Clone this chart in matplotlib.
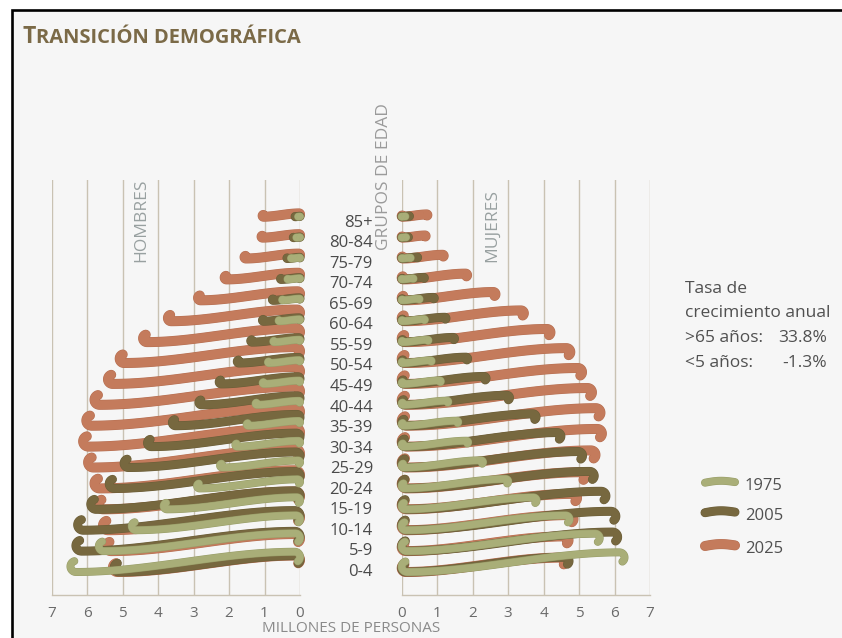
import numpy as np
import matplotlib.pyplot as plt
import matplotlib.patheffects as pe
from matplotlib.patches import Rectangle
from matplotlib.lines import Line2D
from matplotlib import transforms

plt.rcParams['font.family'] = ['Open Sans', 'DejaVu Sans']

# Datos (millones de personas), de 0-4 a 85+
grupos = ["0-4", "5-9", "10-14", "15-19", "20-24", "25-29", "30-34", "35-39",
          "40-44", "45-49", "50-54", "55-59", "60-64", "65-69", "70-74",
          "75-79", "80-84", "85+"]
anios = ["1975", "2005", "2025"]

hombres_1975 = [6.57, 5.77, 4.84, 3.94, 3.00, 2.35, 1.92, 1.60, 1.35, 1.15,
                1.00, 0.85, 0.70, 0.60, 0.45, 0.35, 0.20, 0.15]
hombres_2005 = [5.35, 6.43, 6.38, 6.01, 5.49, 5.07, 4.41, 3.71, 2.96, 2.39,
                1.88, 1.50, 1.17, 0.89, 0.66, 0.48, 0.30, 0.25]
hombres_2025 = [5.40, 5.59, 5.68, 5.82, 5.92, 6.10, 6.24, 6.15, 5.92, 5.54,
                5.21, 4.55, 3.85, 3.00, 2.25, 1.69, 1.21, 1.18]

mujeres_1975 = [6.38, 5.68, 4.83, 3.90, 3.10, 2.39, 1.97, 1.69, 1.41, 1.20,
                0.94, 0.85, 0.75, 0.60, 0.43, 0.35, 0.22, 0.20]
mujeres_2005 = [4.83, 6.20, 6.15, 5.87, 5.54, 5.21, 4.60, 3.90, 3.15, 2.49,
                1.97, 1.60, 1.36, 1.03, 0.75, 0.56, 0.30, 0.33]
mujeres_2025 = [4.74, 4.83, 4.97, 5.07, 5.30, 5.59, 5.77, 5.73, 5.49, 5.21,
                4.88, 4.32, 3.57, 2.77, 1.97, 1.31, 0.80, 0.85]

ticks = [0, 1, 2, 3, 4, 5, 6, 7]

colores = {"1975": "#a9ae78", "2005": "#77683f", "2025": "#c47b5c"}
bordes = {"1975": "#979c67", "2005": "#6a5c37", "2025": "#b56e51"}
grosor_px = {"1975": 7.0, "2005": 8.0, "2025": 9.0}
GRID = "#c9c2b3"
TITULO = "#7b6a47"
TEXTO = "#505050"

W_PX, H_PX = 842, 638
fig = plt.figure(figsize=(W_PX / 100, H_PX / 100), dpi=100)
fig.patch.set_facecolor("white")


def fx(px):
    return px / W_PX


def fy(py):
    return 1 - py / H_PX


def pt(px):
    return px * 72 / 100


# marco
fig.add_artist(Rectangle((fx(11.5), fy(700)), fx(900), fy(9.5) - fy(700),
                         transform=fig.transFigure, facecolor="#f6f6f6",
                         edgecolor="black", lw=1.9, zorder=0))

# ejes
AX_TOP, AX_BOT = 180, 595
L0, L1 = 51.7, 300.0
R0, R1 = 401.7, 650.0
ROWPX = 20.55
Y_LABEL0 = 572.0
ymin = (Y_LABEL0 - AX_BOT) / ROWPX
ymax = (Y_LABEL0 - AX_TOP) / ROWPX
PXU = (L1 - L0) / 7
ROW_STROKE = 20.9

alto = (AX_BOT - AX_TOP) / H_PX
axL = fig.add_axes([fx(L0), fy(AX_BOT), fx(L1) - fx(L0), alto])
axR = fig.add_axes([fx(R0), fy(AX_BOT), fx(R1) - fx(R0), alto])
axL.set_xlim(7, 0)
axR.set_xlim(0, 7)
for ax in (axL, axR):
    ax.set_ylim(ymin, ymax)
    ax.patch.set_alpha(0)
    for lado in ("top", "left", "right"):
        ax.spines[lado].set_visible(False)
    ax.spines["bottom"].set_color(GRID)
    ax.spines["bottom"].set_linewidth(1.0)
    ax.set_yticks([])
    ax.set_xticks(ticks)
    ax.tick_params(axis="x", length=0, pad=8, labelsize=11, labelcolor="#6a6a6a")
    for t in ticks:
        ax.axvline(t, color=GRID, lw=1.0, zorder=0.5)


def trazo(W, k):
    """Trazo tipo pincel en px locales: s hacia la derecha, h hacia arriba."""
    R = 5.5 * k
    r = 5.2 * k
    subida = 20.0 * k
    th1 = np.linspace(0.6 * np.pi, 1.5 * np.pi, 14)
    s1 = R + R * np.cos(th1)
    h1 = R + R * np.sin(th1)
    t = np.linspace(0, 1, 80)
    s2 = R + (W - r - R) * t
    h2 = subida * (3 * t ** 2 - 2 * t ** 3)
    th3 = np.linspace(0.5 * np.pi, -0.3 * np.pi, 14)
    s3 = W - r + r * np.cos(th3)
    h3 = subida - r + r * np.sin(th3)
    return np.concatenate([s1, s2, s3]), np.concatenate([h1, h2, h3])


def dibuja(ax, valores, anio, izquierda):
    lw = grosor_px[anio]
    capa = 3 + (2 - anios.index(anio))
    for i in range(len(valores) - 1, -1, -1):
        v = valores[i]
        W = max(v * PXU - lw / 2, 1.0)
        k = W / 227.0
        s, h = trazo(W, k)
        if izquierda:
            xs = (W - s) / PXU
        else:
            xs = s / PXU
        ys = (i * ROW_STROKE + h) / ROWPX
        ax.plot(xs, ys, color=colores[anio], lw=pt(lw), solid_capstyle="round",
                solid_joinstyle="round", zorder=capa - i * 0.001, clip_on=False,
                path_effects=[pe.Stroke(linewidth=pt(lw + 1.0), foreground=bordes[anio]),
                              pe.Normal()])


for anio, vals in (("2025", hombres_2025), ("2005", hombres_2005), ("1975", hombres_1975)):
    dibuja(axL, vals, anio, True)
for anio, vals in (("2025", mujeres_2025), ("2005", mujeres_2005), ("1975", mujeres_1975)):
    dibuja(axR, vals, anio, False)

# etiquetas de grupos de edad
trans_lab = transforms.blended_transform_factory(fig.transFigure, axR.transData)
for i, g in enumerate(grupos):
    fig.text(fx(373), i, g, transform=trans_lab, ha="right", va="center",
             fontsize=12, color="#4a4a4a")

# titulo en versalitas
renderer = fig.canvas.get_renderer()
t_ini = fig.text(fx(22.5), fy(42.7), "T", fontsize=16.5, fontweight="bold",
                 color=TITULO, va="baseline")
x_fin = t_ini.get_window_extent(renderer=renderer).x1
fig.text(x_fin / W_PX + fx(0.5), fy(42.7), "RANSICIÓN DEMOGRÁFICA", fontsize=14.5,
         fontweight="bold", color=TITULO, va="baseline")

fig.text(fx(141.7), fy(262), "HOMBRES", rotation=90, ha="center", va="bottom",
         fontsize=12.5, color="#98a0a0")
fig.text(fx(491.7), fy(262), "MUJERES", rotation=90, ha="center", va="bottom",
         fontsize=12.5, color="#98a0a0")
fig.text(fx(384), fy(250), "GRUPOS DE EDAD", rotation=90, ha="center", va="bottom",
         fontsize=12.5, color="#9a9a9a")
fig.text(fx(351), fy(629), "MILLONES DE PERSONAS", ha="center", va="center",
         fontsize=11, color="#8a8a8a")

fig.text(fx(685), fy(293), "Tasa de", fontsize=12.5, color=TEXTO, va="baseline")
fig.text(fx(685), fy(316.7), "crecimiento anual", fontsize=12.5, color=TEXTO, va="baseline")
fig.text(fx(685), fy(341.7), ">65 años:", fontsize=12.5, color=TEXTO, va="baseline")
fig.text(fx(827), fy(341.7), "33.8%", fontsize=12.5, color=TEXTO, va="baseline", ha="right")
fig.text(fx(685), fy(366.7), "<5 años:", fontsize=12.5, color=TEXTO, va="baseline")
fig.text(fx(827), fy(366.7), "-1.3%", fontsize=12.5, color=TEXTO, va="baseline", ha="right")

# leyenda
for anio, yl in zip(anios, (481.7, 511.7, 545.0)):
    lw = grosor_px[anio]
    s = np.linspace(0, 30, 30)
    h = 1.6 * np.sin(np.pi * s / 30) + 0.6 * s / 30
    fig.add_artist(Line2D(fx(705 + s), fy(yl + 1 - h), transform=fig.transFigure,
                          color=colores[anio], lw=pt(lw), solid_capstyle="round",
                          path_effects=[pe.Stroke(linewidth=pt(lw + 1.0), foreground=bordes[anio]),
                                        pe.Normal()]))
    fig.text(fx(745), fy(yl + 4), anio, fontsize=12, color=TEXTO, va="center")

fig.savefig("out.png", dpi=100, facecolor=fig.get_facecolor())
